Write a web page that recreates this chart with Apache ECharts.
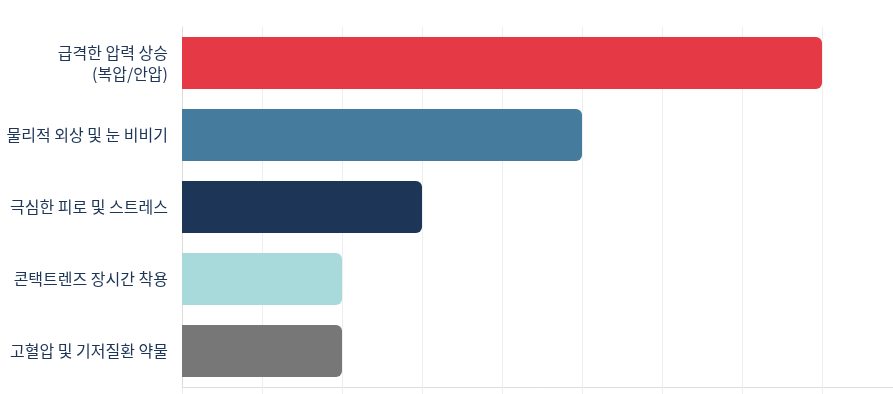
<!DOCTYPE html>
<html>
<head>
<meta charset="utf-8">
<script src="https://cdn.jsdelivr.net/npm/echarts@6/dist/echarts.min.js"></script>
<style>
html,body{margin:0;padding:0;background:#fff;}
#chart{width:893px;height:394px;}
</style>
</head>
<body>
<div id="chart"></div>
<script>
const categories = ['급격한 압력 상승\n(복압/안압)', '물리적 외상 및 눈 비비기', '극심한 피로 및 스트레스', '콘택트렌즈 장시간 착용', '고혈압 및 기저질환 약물'];
const values = [8, 5, 3, 2, 2];
const colors = ['#E63946', '#457B9D', '#1D3557', '#A8DADC', '#777777'];

const chart = echarts.init(document.getElementById('chart'));
chart.setOption({
  animation: false,
  grid: { left: 182, right: 0, top: 27, bottom: 7, containLabel: false },
  xAxis: {
    type: 'value', min: 0, max: 8.8875, interval: 1,
    axisLine: { show: true, lineStyle: { color: '#dddddd', width: 1 } },
    axisTick: { show: true, length: 8, lineStyle: { color: '#eeeeee' } },
    axisLabel: { show: false },
    splitLine: { show: true, lineStyle: { color: '#eeeeee', width: 1 } }
  },
  yAxis: {
    type: 'category', data: categories, inverse: true,
    axisLine: { show: true, lineStyle: { color: '#dddddd', width: 1 } },
    axisTick: { show: false },
    axisLabel: {
      margin: 14, color: '#1D3557', fontSize: 16, lineHeight: 21,
      fontFamily: '"Noto Sans CJK KR", "Noto Sans", sans-serif', align: 'right'
    }
  },
  series: [{
    type: 'bar',
    data: values.map((v, i) => ({ value: v, itemStyle: { color: colors[i] } })),
    barWidth: 52,
    itemStyle: { borderRadius: [0, 6, 6, 0] }
  }]
});
</script>
</body>
</html>
